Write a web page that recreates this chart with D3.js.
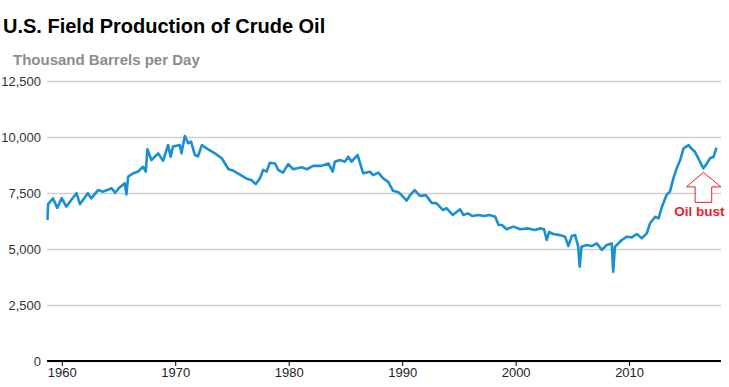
<!DOCTYPE html>
<html>
<head>
<meta charset="utf-8">
<script src="https://cdn.jsdelivr.net/npm/d3@7.9.0/dist/d3.min.js"></script>
<style>
  body { margin: 0; background: #fff; }
  svg { font-family: "Liberation Sans", Arial, sans-serif; }
</style>
</head>
<body>
<svg id="chart" width="729" height="387"></svg>
<script>
// readings (decimal year, thousand barrels per day)
const years = [
  1958.74, 1958.8, 1959.23, 1959.6, 1960.0, 1960.4, 1960.85, 1961.3, 1961.6, 1962.3,
  1962.6, 1963.2, 1963.64, 1964.4, 1964.7, 1965.1, 1965.55, 1965.7, 1965.85, 1966.3,
  1966.7, 1967.17, 1967.4, 1967.55, 1967.9, 1968.2, 1968.5, 1968.93, 1969.37, 1969.6,
  1969.8, 1970.4, 1970.55, 1970.85, 1971.14, 1971.4, 1971.73, 1972.0, 1972.35, 1972.9,
  1973.5, 1974.1, 1974.7, 1975.1, 1975.6, 1976.3, 1976.7, 1977.1, 1977.46, 1977.75,
  1978.05, 1978.34, 1978.8, 1979.07, 1979.5, 1979.96, 1980.4, 1981.14, 1981.6, 1982.16,
  1982.9, 1983.5, 1983.87, 1984.07, 1984.5, 1984.96, 1985.25, 1985.55, 1986.07, 1986.43,
  1986.57, 1987.16, 1987.45, 1987.9, 1988.33, 1988.77, 1989.2, 1989.66, 1989.95, 1990.4,
  1990.7, 1991.1, 1991.57, 1992.1, 1992.6, 1993.04, 1993.6, 1993.9, 1994.45, 1995.1,
  1995.4, 1995.8, 1996.2, 1996.7, 1997.2, 1997.7, 1998.2, 1998.5, 1998.8, 1999.2,
  1999.8, 2000.4, 2001.1, 2001.7, 2002.15, 2002.5, 2002.74, 2002.95, 2003.3, 2003.9,
  2004.36, 2004.65, 2004.95, 2005.24, 2005.5, 2005.65, 2005.8, 2006.27, 2006.7, 2007.15,
  2007.6, 2008.03, 2008.47, 2008.6, 2008.75, 2009.36, 2009.8, 2010.24, 2010.68, 2011.12,
  2011.56, 2011.85, 2012.3, 2012.6, 2012.9, 2013.3, 2013.6, 2013.9, 2014.2, 2014.5,
  2014.8, 2015.25, 2015.55, 2015.8, 2016.1, 2016.55, 2016.85, 2017.14, 2017.45, 2017.7
];
const production = [
  6300, 7000, 7260, 6830, 7270, 6890, 7200, 7490, 7000, 7490,
  7260, 7630, 7560, 7710, 7510, 7750, 7930, 7440, 8230, 8380,
  8450, 8670, 8450, 9450, 8970, 9120, 9270, 8940, 9640, 9120,
  9570, 9640, 9270, 10045, 9720, 9790, 9200, 9130, 9640, 9450,
  9270, 9050, 8560, 8500, 8350, 8140, 8080, 7900, 8150, 8530,
  8450, 8850, 8820, 8530, 8410, 8790, 8560, 8650, 8560, 8710,
  8710, 8820, 8450, 8900, 8970, 8900, 9120, 8900, 9200, 8600,
  8380, 8450, 8300, 8410, 8150, 8000, 7600, 7530, 7410, 7160,
  7410, 7630, 7370, 7400, 7060, 7040, 6740, 6820, 6520, 6770,
  6520, 6590, 6470, 6520, 6470, 6520, 6440, 6070, 6070, 5880,
  6000, 5880, 5920, 5850, 5920, 5880, 5400, 5760, 5670, 5620,
  5550, 5130, 5580, 5620, 5150, 4210, 5100, 5180, 5130, 5250,
  4960, 5180, 5250, 3990, 5100, 5400, 5550, 5520, 5670, 5480,
  5700, 6150, 6440, 6370, 6890, 7410, 7560, 8150, 8600, 8970,
  9490, 9640, 9450, 9340, 9050, 8600, 8820, 9050, 9120, 9520
];
const yTicks = [0, 2500, 5000, 7500, 10000, 12500];
const xTicks = [1960, 1970, 1980, 1990, 2000, 2010];
const bust = { year: 2016.55, value: 8600, label: "Oil bust" };

const data = years.map((y, i) => ({ year: y, value: production[i] }));

const svg = d3.select('#chart');
const x = d3.scaleLinear().domain([1958.7, 2018.1]).range([47, 721]);
const y = d3.scaleLinear().domain([0, 12500]).range([361, 81]);

// title block
svg.append('text')
  .attr('x', 3).attr('y', 33)
  .attr('font-size', 20).attr('font-weight', 'bold').attr('fill', '#000')
  .text('U.S. Field Production of Crude Oil');
svg.append('text')
  .attr('x', 13).attr('y', 65)
  .attr('font-size', 15).attr('font-weight', 'bold').attr('fill', '#8c8c8c')
  .text('Thousand Barrels per Day');

// gridlines + y labels
const yAxis = svg.append('g').attr('transform', 'translate(47,0)')
  .call(d3.axisLeft(y).tickValues(yTicks).tickSize(-674).tickPadding(6).tickFormat(d3.format(',')));
yAxis.select('.domain').remove();
yAxis.selectAll('.tick line').attr('stroke', '#cfcfcf').attr('stroke-width', 1.5);
yAxis.selectAll('.tick text').attr('font-size', 13).attr('fill', '#333').attr('font-family', null);

// line
svg.append('path')
  .datum(data)
  .attr('fill', 'none')
  .attr('stroke', '#1a8fd2')
  .attr('stroke-width', 2.6)
  .attr('stroke-linejoin', 'round')
  .attr('d', d3.line().x(d => x(d.year)).y(d => y(d.value)));

// x axis
const xAxis = svg.append('g').attr('transform', `translate(0,${y(0)})`)
  .call(d3.axisBottom(x).tickValues(xTicks).tickSize(5).tickPadding(2).tickFormat(d3.format('d')));
xAxis.select('.domain').attr('stroke', '#000').attr('stroke-width', 2).attr('d', 'M47,0H721');
xAxis.selectAll('.tick line').attr('stroke', '#000');
xAxis.selectAll('.tick text').attr('font-size', 13).attr('fill', '#222').attr('font-family', null);

// annotation arrow anchored below the 2016 dip
const ax = x(bust.year), ay = y(bust.value) + 4;
const arrow = d3.path();
arrow.moveTo(ax, ay);
arrow.lineTo(ax + 17.5, ay + 14.5);
arrow.lineTo(ax + 8.3, ay + 14.5);
arrow.lineTo(ax + 8.3, ay + 30);
arrow.lineTo(ax - 8.3, ay + 30);
arrow.lineTo(ax - 8.3, ay + 14.5);
arrow.lineTo(ax - 17, ay + 14.5);
arrow.closePath();
svg.append('path').attr('d', arrow.toString())
  .attr('fill', '#fff').attr('stroke', '#e8202a').attr('stroke-width', 1);
svg.append('text')
  .attr('x', ax - 4).attr('y', ay + 44)
  .attr('text-anchor', 'middle')
  .attr('font-size', 13.5).attr('font-weight', 'bold').attr('fill', '#e8202a')
  .text(bust.label);
</script>
</body>
</html>
